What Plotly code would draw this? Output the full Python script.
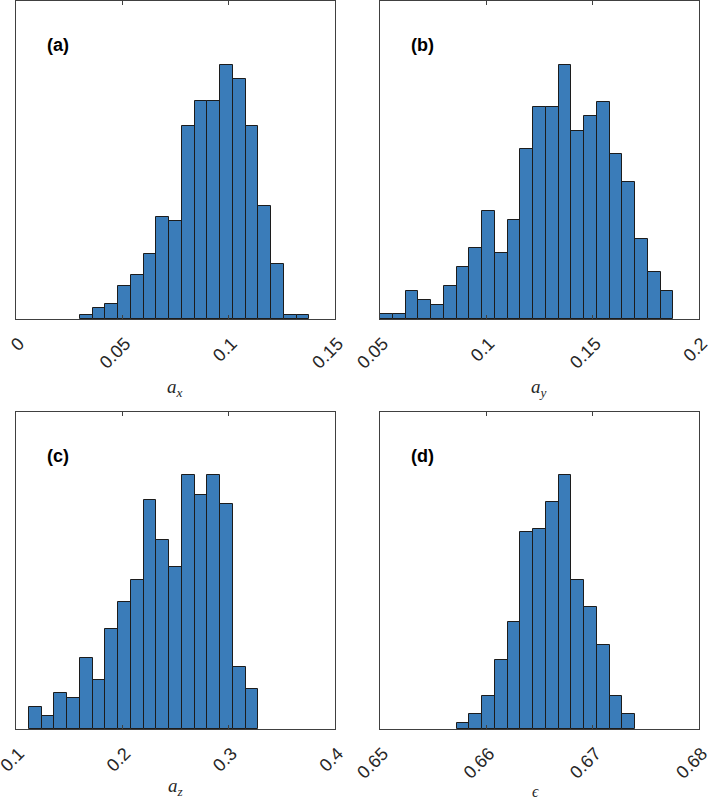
import numpy as np
import plotly.graph_objects as go

# ---- data ----
ax_start, ax_width = 0.030, 0.006
ax_counts = [1, 3, 4, 9, 12, 18, 28, 27, 53, 60, 60, 70, 66, 53, 31, 15, 1, 1]

ay_start, ay_width = 0.050, 0.006
ay_counts = [1, 1, 6, 4, 3, 7, 11, 15, 23, 14, 21, 36, 45, 45, 54, 40, 43, 46, 35, 29, 17, 10, 6]

az_start, az_width = 0.112, 0.012
az_counts = [10, 6, 16, 14, 32, 22, 45, 57, 67, 103, 85, 73, 114, 105, 114, 101, 28, 18]

ep_start, ep_width = 0.6572, 0.0012
ep_counts = [2, 5, 11, 23, 36, 66, 67, 76, 85, 50, 41, 28, 11, 5]

ax_ticks = [0, 0.05, 0.1, 0.15]
ay_ticks = [0.05, 0.1, 0.15, 0.2]
az_ticks = [0.1, 0.2, 0.3, 0.4]
ep_ticks = [0.65, 0.66, 0.67, 0.68]
ax_ticktext = ["0", "0.05", "0.1", "0.15"]
ay_ticktext = ["0.05", "0.1", "0.15", "0.2"]
az_ticktext = ["0.1", "0.2", "0.3", "0.4"]
ep_ticktext = ["0.65", "0.66", "0.67", "0.68"]

panel_labels = ["(a)", "(b)", "(c)", "(d)"]
xlabels = ["<i>a</i><sub><i>x</i></sub>", "<i>a</i><sub><i>y</i></sub>",
           "<i>a</i><sub><i>z</i></sub>", "<i>ϵ</i>"]

W, H = 709, 801
BAR = "#3a7cb9"
EDGE = "#1c1c1c"
AXC = "#404040"

panels = [
    (ax_start, ax_width, ax_counts, ax_ticks, ax_ticktext),
    (ay_start, ay_width, ay_counts, ay_ticks, ay_ticktext),
    (az_start, az_width, az_counts, az_ticks, az_ticktext),
    (ep_start, ep_width, ep_counts, ep_ticks, ep_ticktext),
]

# pixel boxes of the plot areas (left, right, top, bottom)
boxes = [(16, 335, 1, 319), (380, 699, 1, 319), (16, 335, 412, 729), (380, 699, 412, 729)]
label_pos = [(175, 388), (539, 388), (175, 787), (535, 791)]
label_size = [19, 19, 19, 16]

fig = go.Figure()
layout = dict(width=W, height=H, margin=dict(l=0, r=0, t=0, b=0, autoexpand=False),
              autosize=False,
              plot_bgcolor="white", paper_bgcolor="white", showlegend=False,
              bargap=0, annotations=[])

for i, (start, width, counts, ticks, ttext) in enumerate(panels):
    n = len(counts)
    centers = start + width * (np.arange(n) + 0.5)
    xa = "x" if i == 0 else f"x{i+1}"
    ya = "y" if i == 0 else f"y{i+1}"
    fig.add_trace(go.Bar(x=centers, y=counts, width=[width] * n,
                         marker=dict(color=BAR, line=dict(color=EDGE, width=1)),
                         xaxis=xa, yaxis=ya, hoverinfo="x+y"))
    l, r, t, b = boxes[i]
    xkey = "xaxis" if i == 0 else f"xaxis{i+1}"
    ykey = "yaxis" if i == 0 else f"yaxis{i+1}"
    layout[xkey] = dict(domain=[l / W, r / W], anchor=ya, range=[ticks[0], ticks[-1]],
                        tickvals=ticks, ticktext=ttext, tickangle=-45, automargin=False,
                        ticks="inside", ticklen=4, tickcolor=AXC,
                        ticklabelstandoff=6, ticklabelshift=3, ticklabeloverflow="allow",
                        showline=True, linecolor=AXC, linewidth=1, mirror="ticks",
                        showgrid=False, zeroline=False,
                        tickfont=dict(family="Liberation Sans, Arial", size=18, color="#262626"))
    layout[ykey] = dict(domain=[1 - b / H, 1 - t / H], anchor=xa, automargin=False,
                        range=[0, max(counts) * 1.25],
                        showticklabels=False, ticks="", showline=True,
                        linecolor=AXC, linewidth=1, mirror=True,
                        showgrid=False, zeroline=False)
    dom = "x domain" if i == 0 else f"x{i+1} domain"
    ydom = "y domain" if i == 0 else f"y{i+1} domain"
    layout["annotations"].append(dict(text=f"<b>{panel_labels[i]}</b>", xref=dom, yref=ydom,
                                      x=0.09, y=0.862, xanchor="left", yanchor="middle",
                                      showarrow=False,
                                      font=dict(family="Liberation Sans, Arial", size=18, color="black")))
    lx, ly = label_pos[i]
    layout["annotations"].append(dict(text=xlabels[i], xref="paper", yref="paper",
                                      x=lx / W, y=1 - ly / H, xanchor="center", yanchor="middle",
                                      showarrow=False,
                                      font=dict(family="Liberation Serif, DejaVu Serif", size=label_size[i],
                                                color="#262626")))

fig.update_layout(**layout)
fig.write_html("out.html", config=dict(displayModeBar=False, responsive=False),
               post_script="document.body.style.margin='0';document.body.style.overflow='hidden';")
